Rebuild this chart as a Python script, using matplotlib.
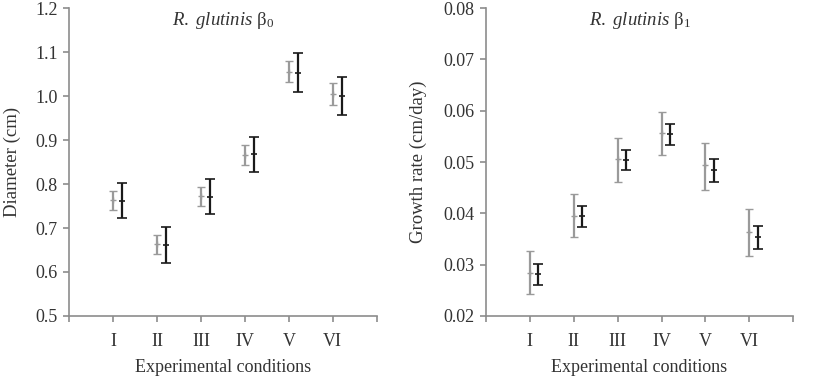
import numpy as np
import matplotlib
matplotlib.use('Agg')
import matplotlib.pyplot as plt

plt.rcParams['font.family'] = ['Liberation Serif', 'DejaVu Serif']
plt.rcParams['mathtext.fontset'] = 'custom'
plt.rcParams['mathtext.rm'] = 'Liberation Serif'
plt.rcParams['mathtext.it'] = 'Liberation Serif:italic'

conditions = ['I', 'II', 'III', 'IV', 'V', 'VI']

# diameter (beta0), two series: gray and black
diam_gray = [0.763, 0.664, 0.773, 0.867, 1.055, 1.005]
diam_gray_lo = [0.741, 0.640, 0.751, 0.843, 1.032, 0.980]
diam_gray_hi = [0.785, 0.685, 0.794, 0.889, 1.080, 1.029]
diam_black = [0.762, 0.662, 0.771, 0.868, 1.053, 1.000]
diam_black_lo = [0.722, 0.621, 0.731, 0.828, 1.009, 0.956]
diam_black_hi = [0.803, 0.702, 0.812, 0.907, 1.097, 1.043]

# growth rate (beta1)
rate_gray = [0.0284, 0.0395, 0.0505, 0.0556, 0.0494, 0.0363]
rate_gray_lo = [0.0242, 0.0353, 0.0462, 0.0513, 0.0446, 0.0316]
rate_gray_hi = [0.0327, 0.0437, 0.0547, 0.0598, 0.0538, 0.0408]
rate_black = [0.0282, 0.0395, 0.0504, 0.0555, 0.0484, 0.0353]
rate_black_lo = [0.0260, 0.0373, 0.0484, 0.0533, 0.0462, 0.0331]
rate_black_hi = [0.0302, 0.0415, 0.0524, 0.0574, 0.0506, 0.0375]

gray = '#9a9a9a'
black = '#1a1a1a'
text_col = '#333333'
axis_col = '#8c8c8c'


def draw(ax, g, glo, ghi, b, blo, bhi, ylim, yticks, yfmt, ylabel, ylabel_x, title):
    x = np.arange(1, len(conditions) + 1)
    g, glo, ghi = np.array(g), np.array(glo), np.array(ghi)
    b, blo, bhi = np.array(b), np.array(blo), np.array(bhi)
    ax.errorbar(x, g, yerr=[g - glo, ghi - g], fmt='+', color=gray, ecolor=gray,
                elinewidth=1.6, capsize=3.2, capthick=1.6, markersize=4, markeredgewidth=1)
    ax.errorbar(x + 0.2, b, yerr=[b - blo, bhi - b], fmt='+', color=black, ecolor=black,
                elinewidth=1.6, capsize=3.8, capthick=1.8, markersize=4, markeredgewidth=1.2)
    ax.set_xlim(0, 7)
    ax.set_ylim(*ylim)
    ax.set_xticks(range(0, 8))
    ax.set_xticklabels([''] + conditions + [''])
    ax.set_yticks(yticks)
    ax.set_yticklabels([yfmt.format(v) for v in yticks])
    for s in ['top', 'right']:
        ax.spines[s].set_visible(False)
    for s in ['left', 'bottom']:
        ax.spines[s].set_color(axis_col)
        ax.spines[s].set_linewidth(1.2)
    ax.tick_params(axis='both', colors=axis_col, labelcolor=text_col, labelsize=13,
                   length=4, width=1.2)
    ax.tick_params(axis='x', pad=8)
    ax.tick_params(axis='y', pad=4)
    ax.set_xlabel('Experimental conditions', fontsize=13, color=text_col, labelpad=7)
    ax.set_ylabel(ylabel, fontsize=13.5, color=text_col)
    ax.yaxis.set_label_coords(ylabel_x, 0.5)
    ax.text(0.5, 0.995, title, transform=ax.transAxes, ha='center', va='top',
            fontsize=13.5, color=text_col)


fig = plt.figure(figsize=(8.14, 3.76), dpi=100)
ax1 = fig.add_axes([0.0848, 0.1596, 0.378, 0.819])
ax2 = fig.add_axes([0.5967, 0.1596, 0.378, 0.819])

draw(ax1, diam_gray, diam_gray_lo, diam_gray_hi, diam_black, diam_black_lo, diam_black_hi,
     (0.5, 1.2), np.round(np.arange(0.5, 1.21, 0.1), 2), '{:.1f}', 'Diameter (cm)', -0.155,
     r'$\mathit{R.\ glutinis}$ β$_0$')
draw(ax2, rate_gray, rate_gray_lo, rate_gray_hi, rate_black, rate_black_lo, rate_black_hi,
     (0.02, 0.08), np.round(np.arange(0.02, 0.081, 0.01), 2), '{:.2f}', 'Growth rate (cm/day)', -0.19,
     r'$\mathit{R.\ glutinis}$ β$_1$')

fig.savefig('out.png', dpi=100)
